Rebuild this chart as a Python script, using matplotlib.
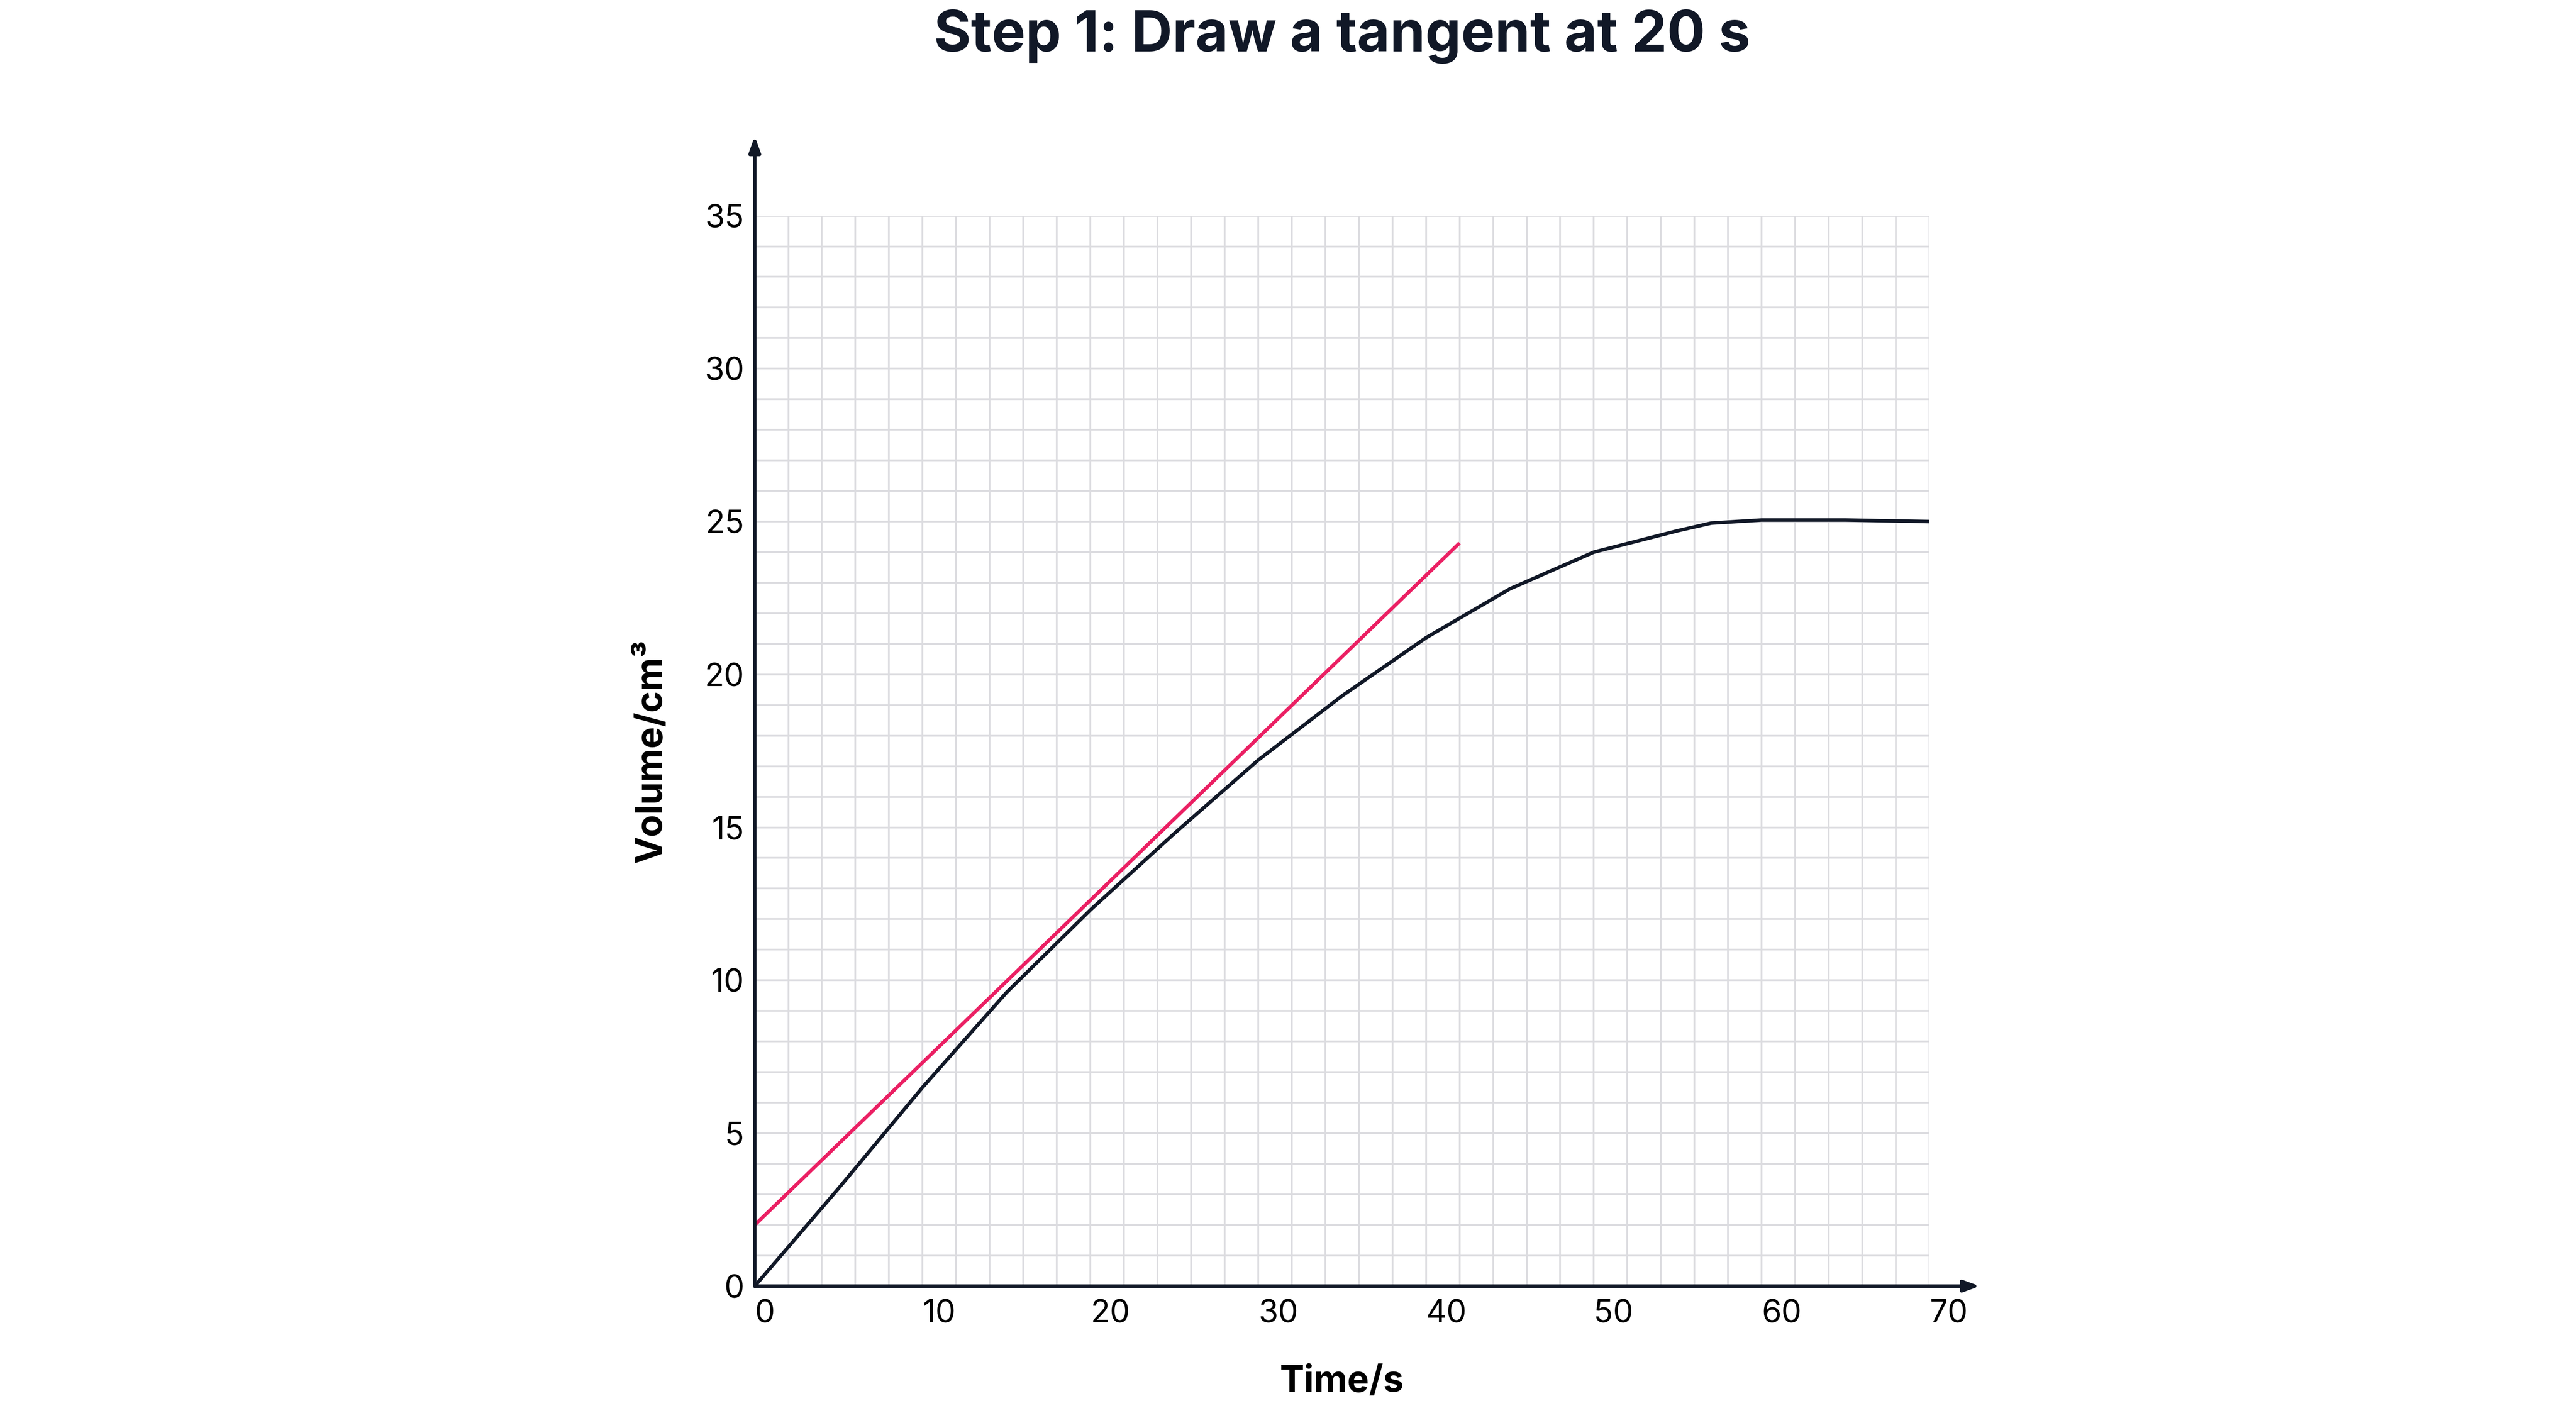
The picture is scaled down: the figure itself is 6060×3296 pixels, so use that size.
import matplotlib.pyplot as plt
import numpy as np
from matplotlib.ticker import MultipleLocator

plt.rcParams["font.family"] = ["Inter", "DejaVu Sans"]

TIME = [0, 5, 10, 15, 20, 25, 30, 35, 40, 45, 50, 55, 57, 60, 65, 70]
VOLUME = [0, 3.2, 6.5, 9.6, 12.3, 14.8, 17.2, 19.3, 21.2, 22.8, 24.0, 24.7, 24.95, 25.05, 25.05, 25.0]
TANGENT_T = [0, 42]
TANGENT_V = [2.0, 24.3]

INK = "#111827"
GRID = "#dcdce0"

fig = plt.figure(figsize=(60.6, 32.96), dpi=100)
axis = fig.add_axes([0.293, 0.082, 0.456, 0.764])

axis.plot(TIME, VOLUME, color=INK, linewidth=6, zorder=3)
axis.plot(TANGENT_T, TANGENT_V, color="#eb1f63", linewidth=6, zorder=3, solid_capstyle="butt")

axis.set_xlim(0, 70)
axis.set_ylim(0, 35)
axis.xaxis.set_major_locator(MultipleLocator(10))
axis.xaxis.set_minor_locator(MultipleLocator(2))
axis.yaxis.set_major_locator(MultipleLocator(5))
axis.yaxis.set_minor_locator(MultipleLocator(1))
axis.grid(which="both", color=GRID, linewidth=3, zorder=0)
axis.set_axisbelow(True)

for side in ["top", "right", "left", "bottom"]:
    axis.spines[side].set_visible(False)

axis.tick_params(which="both", length=0)
axis.tick_params(axis="x", labelsize=54, pad=22)
axis.tick_params(axis="y", labelsize=54, pad=18)
for label in axis.get_xticklabels():
    label.set_horizontalalignment("left")

# axis arrows beyond the grid
axis.annotate("", xy=(0, 37.6), xytext=(0, 0), xycoords="data", annotation_clip=False,
              arrowprops=dict(arrowstyle="-|>,head_length=2.2,head_width=0.8", color=INK, lw=6, shrinkA=0, shrinkB=0))
axis.annotate("", xy=(73.0, 0), xytext=(0, 0), xycoords="data", annotation_clip=False,
              arrowprops=dict(arrowstyle="-|>,head_length=2.2,head_width=0.8", color=INK, lw=6, shrinkA=0, shrinkB=0))

axis.set_xlabel("Time/s", fontsize=62, fontweight="bold", labelpad=60)
axis.set_ylabel("Volume/cm³", fontsize=62, fontweight="bold", labelpad=60)

fig.text(0.521, 0.974, "Step 1: Draw a tangent at 20 s", ha="center", va="center",
         fontsize=96, fontweight="bold", color=INK)

fig.savefig("out.png", dpi=100, facecolor="white")
